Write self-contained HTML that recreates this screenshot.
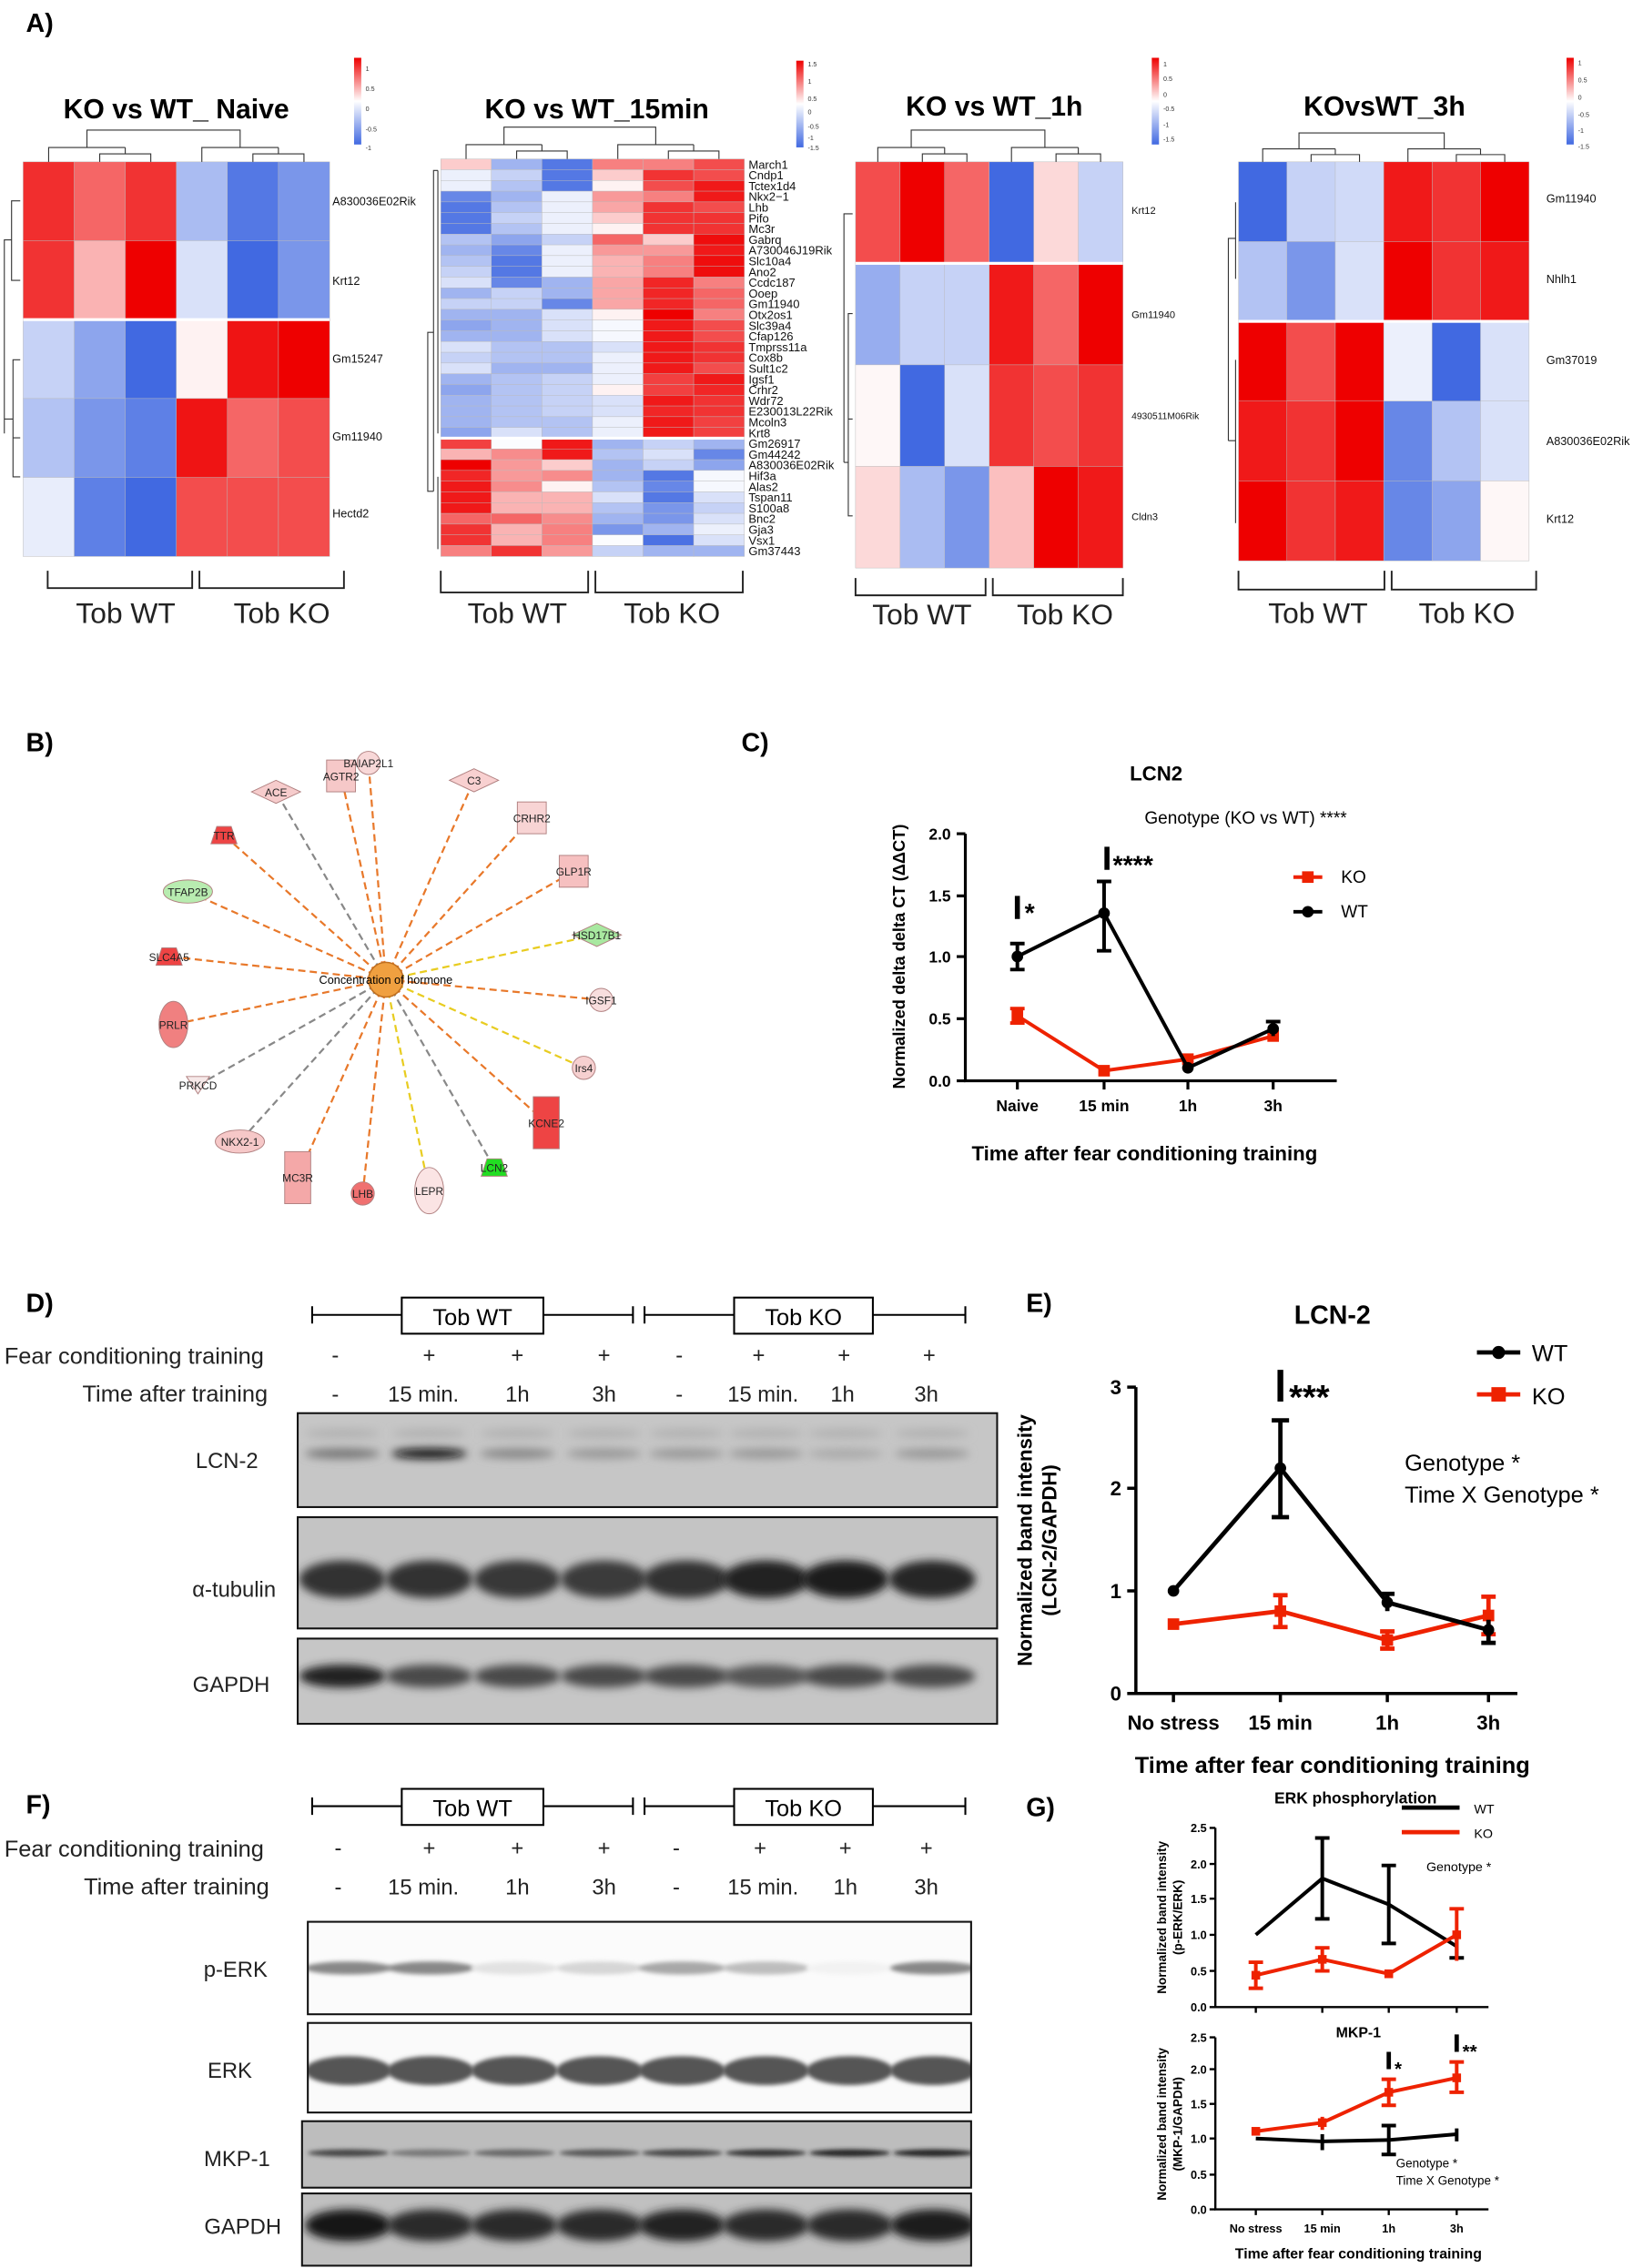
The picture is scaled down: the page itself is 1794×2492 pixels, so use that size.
<!DOCTYPE html>
<html><head><meta charset="utf-8"><style>
html,body{margin:0;padding:0;background:#fff}
svg{display:block}
text{font-family:"Liberation Sans",Arial,sans-serif}
</style></head><body>
<svg id="s" width="1794" height="2492" viewBox="0 0 1130 1569.6" preserveAspectRatio="none" xmlns="http://www.w3.org/2000/svg">
<defs>
<filter id="bl" x="-20%" y="-100%" width="140%" height="300%"><feGaussianBlur stdDeviation="3"/></filter>
<filter id="bl2" x="-20%" y="-100%" width="140%" height="300%"><feGaussianBlur stdDeviation="1.5"/></filter>
<linearGradient id="cb" x1="0" y1="0" x2="0" y2="1"><stop offset="0" stop-color="#ee0000"/><stop offset="0.5" stop-color="#fff"/><stop offset="1" stop-color="#4169e1"/></linearGradient>
</defs>
<g id="hm"></g>
<g id="blots"></g>
<g id="dend" fill="none" stroke="#333" stroke-width="0.7"></g>
<g font-weight="bold" text-anchor="middle" fill="#000">
<text x="122" y="82" font-size="19">KO vs WT_ Naive</text>
<text x="413" y="82" font-size="19">KO vs WT_15min</text>
<text x="688" y="80" font-size="19">KO vs WT_1h</text>
<text x="958" y="80" font-size="19">KOvsWT_3h</text>
</g>
<text x="18" y="22" font-size="18" font-weight="bold">A)</text>
<rect x="245" y="40" width="5" height="60" fill="url(#cb)"/>
<rect x="551" y="42" width="5" height="60" fill="url(#cb)"/>
<rect x="797" y="40" width="5" height="60" fill="url(#cb)"/>
<rect x="1084" y="40" width="5" height="60" fill="url(#cb)"/>
<g font-size="4.5" fill="#333">
<text x="253" y="49">1</text><text x="253" y="63">0.5</text><text x="253" y="77">0</text><text x="253" y="91">-0.5</text><text x="253" y="104">-1</text>
<text x="559" y="46">1.5</text><text x="559" y="58">1</text><text x="559" y="70">0.5</text><text x="559" y="79">0</text><text x="559" y="89">-0.5</text><text x="559" y="97">-1</text><text x="559" y="104">-1.5</text>
<text x="805" y="46">1</text><text x="805" y="56">0.5</text><text x="805" y="67">0</text><text x="805" y="77">-0.5</text><text x="805" y="88">-1</text><text x="805" y="98">-1.5</text>
<text x="1092" y="45">1</text><text x="1092" y="57">0.5</text><text x="1092" y="69">0</text><text x="1092" y="81">-0.5</text><text x="1092" y="92">-1</text><text x="1092" y="103">-1.5</text>
</g>
<g font-size="8" fill="#111">
<text x="230" y="142">A830036E02Rik</text><text x="230" y="197">Krt12</text><text x="230" y="251">Gm15247</text><text x="230" y="305">Gm11940</text><text x="230" y="358">Hectd2</text>
<text x="783" y="148" font-size="7">Krt12</text><text x="783" y="220" font-size="7">Gm11940</text><text x="783" y="290" font-size="6.5">4930511M06Rik</text><text x="783" y="360" font-size="7">Cldn3</text>
<text x="1070" y="140">Gm11940</text><text x="1070" y="196">Nhlh1</text><text x="1070" y="252">Gm37019</text><text x="1070" y="308">A830036E02Rik</text><text x="1070" y="362">Krt12</text>
</g>
<g id="lab15" font-size="8.2" fill="#111"></g>
<g fill="none" stroke="#222" stroke-width="1.2">
<path d="M33 395V407H133V395M138 395V407H238V395"/>
<path d="M305 395V410H407V395M412 395V410H514V395"/>
<path d="M592 400V412H682V400M687 400V412H777V400"/>
<path d="M857 395V408H958V395M963 395V408H1063V395"/>
</g>
<g font-size="20" fill="#222" text-anchor="middle">
<text x="87" y="431">Tob WT</text><text x="195" y="431">Tob KO</text>
<text x="358" y="431">Tob WT</text><text x="465" y="431">Tob KO</text>
<text x="638" y="432">Tob WT</text><text x="737" y="432">Tob KO</text>
<text x="912" y="431">Tob WT</text><text x="1015" y="431">Tob KO</text>
</g>

<text x="18" y="520" font-size="18" font-weight="bold">B)</text>
<g id="net"></g>
<text x="267" y="681" font-size="8" text-anchor="middle">Concentration of hormone</text>

<text x="513" y="520" font-size="18" font-weight="bold">C)</text>
<text x="800" y="540" font-size="14" font-weight="bold" text-anchor="middle">LCN2</text>
<text x="862" y="570" font-size="12" text-anchor="middle">Genotype (KO vs WT) ****</text>
<g stroke="#000" stroke-width="2" fill="none">
<path d="M668 577V748H925"/>
<path d="M662 577H668M662 620H668M662 662H668M662 705H668M662 748H668M704 748V754M764 748V754M822 748V754M881 748V754"/>
</g>
<g font-size="11" font-weight="bold" text-anchor="end">
<text x="658" y="581">2.0</text><text x="658" y="624">1.5</text><text x="658" y="666">1.0</text><text x="658" y="709">0.5</text><text x="658" y="752">0.0</text>
</g>
<g font-size="11" font-weight="bold" text-anchor="middle">
<text x="704" y="769">Naive</text><text x="764" y="769">15 min</text><text x="822" y="769">1h</text><text x="881" y="769">3h</text>
</g>
<text transform="translate(626 662) rotate(-90)" font-size="11.5" font-weight="bold" text-anchor="middle">Normalized delta delta CT (ΔΔCT)</text>
<text x="792" y="803" font-size="14" font-weight="bold" text-anchor="middle">Time after fear conditioning training</text>
<g stroke="#ee2200" stroke-width="2.5" fill="none"><path d="M704 703L764 741L822 733L881 717"/><path d="M704 698V708M699 698H709M699 708H709"/></g>
<g fill="#ee2200"><rect x="700" y="699" width="8" height="8"/><rect x="760" y="737" width="8" height="8"/><rect x="818" y="729" width="8" height="8"/><rect x="877" y="713" width="8" height="8"/></g>
<g stroke="#000" stroke-width="2.5" fill="none"><path d="M704 662L764 632L822 739L881 712"/><path d="M704 653V671M699 653H709M699 671H709M764 610V658M759 610H769M759 658H769M881 707V717M876 707H886"/></g>
<g fill="#000"><circle cx="704" cy="662" r="4"/><circle cx="764" cy="632" r="4"/><circle cx="822" cy="739" r="4"/><circle cx="881" cy="712" r="4"/></g>
<g stroke="#000" stroke-width="3.5"><path d="M704 620V636M766 586V602"/></g>
<text x="709" y="638" font-size="18" font-weight="bold">*</text>
<text x="770" y="605" font-size="18" font-weight="bold">****</text>
<path d="M895 607H915" stroke="#ee2200" stroke-width="2.5"/><rect x="901" y="603" width="8" height="8" fill="#ee2200"/>
<text x="928" y="611" font-size="12">KO</text>
<path d="M895 631H915" stroke="#000" stroke-width="2.5"/><circle cx="905" cy="631" r="4"/>
<text x="928" y="635" font-size="12">WT</text>

<text x="18" y="908" font-size="18" font-weight="bold">D)</text>
<text x="710" y="908" font-size="18" font-weight="bold">E)</text>
<text x="18" y="1255" font-size="18" font-weight="bold">F)</text>
<text x="710" y="1257" font-size="18" font-weight="bold">G)</text>
<g stroke="#000" stroke-width="1.3" fill="none">
<path d="M216 904V916M216 910H278M376 910H438M438 904V916M446 904V916M446 910H508M604 910H668M668 904V916"/>
<rect x="278" y="898" width="98" height="25" fill="#fff"/><rect x="508" y="898" width="96" height="25" fill="#fff"/>
<path d="M216 1244V1256M216 1250H278M376 1250H438M438 1244V1256M446 1244V1256M446 1250H508M604 1250H668M668 1244V1256"/>
<rect x="278" y="1238" width="98" height="25" fill="#fff"/><rect x="508" y="1238" width="96" height="25" fill="#fff"/>
</g>
<g font-size="16" text-anchor="middle">
<text x="327" y="917">Tob WT</text><text x="556" y="917">Tob KO</text>
<text x="327" y="1257">Tob WT</text><text x="556" y="1257">Tob KO</text>
</g>
<g font-size="16" fill="#222">
<text x="3" y="944">Fear conditioning training</text>
<text x="57" y="970">Time after training</text>
<text x="3" y="1285">Fear conditioning training</text>
<text x="58" y="1311">Time after training</text>
</g>
<g font-size="15" fill="#222" text-anchor="middle">
<text x="232" y="943">-</text><text x="297" y="943">+</text><text x="358" y="943">+</text><text x="418" y="943">+</text><text x="470" y="943">-</text><text x="525" y="943">+</text><text x="584" y="943">+</text><text x="643" y="943">+</text>
<text x="232" y="970">-</text><text x="293" y="970">15 min.</text><text x="358" y="970">1h</text><text x="418" y="970">3h</text><text x="470" y="970">-</text><text x="528" y="970">15 min.</text><text x="583" y="970">1h</text><text x="641" y="970">3h</text>
<text x="234" y="1284">-</text><text x="297" y="1284">+</text><text x="358" y="1284">+</text><text x="418" y="1284">+</text><text x="468" y="1284">-</text><text x="526" y="1284">+</text><text x="585" y="1284">+</text><text x="641" y="1284">+</text>
<text x="234" y="1311">-</text><text x="293" y="1311">15 min.</text><text x="358" y="1311">1h</text><text x="418" y="1311">3h</text><text x="468" y="1311">-</text><text x="528" y="1311">15 min.</text><text x="585" y="1311">1h</text><text x="641" y="1311">3h</text>
</g>
<g font-size="15" fill="#222" text-anchor="middle">
<text x="157" y="1016">LCN-2</text><text x="162" y="1105">α-tubulin</text><text x="160" y="1171">GAPDH</text>
<text x="163" y="1368">p-ERK</text><text x="159" y="1438">ERK</text><text x="164" y="1499">MKP-1</text><text x="168" y="1546">GAPDH</text>
</g>

<text x="922" y="916" font-size="18" font-weight="bold" text-anchor="middle">LCN-2</text>
<g stroke="#000" stroke-width="2.2" fill="none">
<path d="M786 960V1172H1050"/>
<path d="M780 960H786M780 1030H786M780 1101H786M780 1172H786M812 1172V1178M886 1172V1178M960 1172V1178M1030 1172V1178"/>
</g>
<g font-size="14" font-weight="bold" text-anchor="end"><text x="776" y="965">3</text><text x="776" y="1035">2</text><text x="776" y="1106">1</text><text x="776" y="1177">0</text></g>
<g font-size="14" font-weight="bold" text-anchor="middle"><text x="812" y="1197">No stress</text><text x="886" y="1197">15 min</text><text x="960" y="1197">1h</text><text x="1030" y="1197">3h</text></g>
<text transform="translate(714 1066) rotate(-90)" font-size="14" font-weight="bold" text-anchor="middle">Normalized band intensity</text>
<text transform="translate(731 1066) rotate(-90)" font-size="14" font-weight="bold" text-anchor="middle">(LCN-2/GAPDH)</text>
<text x="922" y="1227" font-size="16" font-weight="bold" text-anchor="middle">Time after fear conditioning training</text>
<g stroke="#ee2200" stroke-width="3" fill="none"><path d="M812 1124L886 1115L960 1135L1030 1118"/><path d="M886 1104V1126M881 1104H891M881 1126H891M960 1129V1141M955 1129H965M955 1141H965M1030 1105V1131M1025 1105H1035M1025 1131H1035"/></g>
<g fill="#ee2200"><rect x="808" y="1120" width="8" height="8"/><rect x="882" y="1111" width="8" height="8"/><rect x="956" y="1131" width="8" height="8"/><rect x="1026" y="1114" width="8" height="8"/></g>
<g stroke="#000" stroke-width="3" fill="none"><path d="M812 1101L886 1016L960 1109L1030 1128"/><path d="M886 983V1050M880 983H892M880 1050H892M960 1103V1115M955 1103H965M1030 1121V1137M1025 1137H1035"/></g>
<g fill="#000"><circle cx="812" cy="1101" r="4"/><circle cx="886" cy="1016" r="4"/><circle cx="960" cy="1109" r="4"/><circle cx="1030" cy="1128" r="4"/></g>
<path d="M886 948V970" stroke="#000" stroke-width="4"/>
<text x="892" y="975" font-size="24" font-weight="bold">***</text>
<path d="M1022 936H1052" stroke="#000" stroke-width="3"/><circle cx="1037" cy="936" r="4.5"/>
<text x="1060" y="942" font-size="16">WT</text>
<path d="M1022 965H1052" stroke="#ee2200" stroke-width="3"/><rect x="1032" y="960" width="10" height="10" fill="#ee2200"/>
<text x="1060" y="972" font-size="16">KO</text>
<text x="972" y="1018" font-size="16">Genotype *</text>
<text x="972" y="1040" font-size="16">Time X Genotype *</text>

<text x="938" y="1248" font-size="11" font-weight="bold" text-anchor="middle">ERK phosphorylation</text>
<g stroke="#000" stroke-width="1.5" fill="none">
<path d="M841 1265V1389H1030"/>
<path d="M837 1265H841M837 1290H841M837 1314H841M837 1339H841M837 1364H841M837 1389H841M869 1389V1393M915 1389V1393M961 1389V1393M1008 1389V1393"/>
<path d="M841 1410V1529H1030"/>
<path d="M837 1410H841M837 1432H841M837 1456H841M837 1480H841M837 1505H841M837 1529H841M869 1529V1533M915 1529V1533M961 1529V1533M1008 1529V1533"/>
</g>
<g font-size="8" font-weight="bold" text-anchor="end">
<text x="835" y="1268">2.5</text><text x="835" y="1293">2.0</text><text x="835" y="1317">1.5</text><text x="835" y="1342">1.0</text><text x="835" y="1367">0.5</text><text x="835" y="1392">0.0</text>
<text x="835" y="1413">2.5</text><text x="835" y="1435">2.0</text><text x="835" y="1459">1.5</text><text x="835" y="1483">1.0</text><text x="835" y="1508">0.5</text><text x="835" y="1532">0.0</text>
</g>
<g font-size="8" font-weight="bold" text-anchor="middle">
<text x="869" y="1545">No stress</text><text x="915" y="1545">15 min</text><text x="961" y="1545">1h</text><text x="1008" y="1545">3h</text>
</g>
<text x="940" y="1563" font-size="10" font-weight="bold" text-anchor="middle">Time after fear conditioning training</text>
<text transform="translate(807 1327) rotate(-90)" font-size="8.5" font-weight="bold" text-anchor="middle">Normalized band intensity</text>
<text transform="translate(818 1327) rotate(-90)" font-size="8.5" font-weight="bold" text-anchor="middle">(p-ERK/ERK)</text>
<text transform="translate(807 1470) rotate(-90)" font-size="8.5" font-weight="bold" text-anchor="middle">Normalized band intensity</text>
<text transform="translate(818 1470) rotate(-90)" font-size="8.5" font-weight="bold" text-anchor="middle">(MKP-1/GAPDH)</text>
<g stroke="#000" stroke-width="2.5" fill="none"><path d="M869 1339L915 1300L961 1318L1008 1347"/><path d="M915 1272V1328M910 1272H920M910 1328H920M961 1291V1345M956 1291H966M956 1345H966M1008 1340V1355M1003 1355H1013"/></g>
<g stroke="#ee2200" stroke-width="2.5" fill="none"><path d="M869 1367L915 1356L961 1366L1008 1339"/><path d="M869 1358V1376M864 1358H874M864 1376H874M915 1348V1364M910 1348H920M910 1364H920M1008 1321V1357M1003 1321H1013"/></g>
<g fill="#ee2200"><rect x="866" y="1364" width="6" height="6"/><rect x="912" y="1353" width="6" height="6"/><rect x="958" y="1363" width="6" height="6"/><rect x="1005" y="1336" width="6" height="6"/></g>
<path d="M970 1251H1010" stroke="#000" stroke-width="3"/><text x="1020" y="1255" font-size="9">WT</text>
<path d="M970 1268H1010" stroke="#ee2200" stroke-width="3"/><text x="1020" y="1272" font-size="9">KO</text>
<text x="987" y="1295" font-size="9">Genotype *</text>
<text x="940" y="1410" font-size="10" font-weight="bold" text-anchor="middle">MKP-1</text>
<g stroke="#ee2200" stroke-width="2.5" fill="none"><path d="M869 1475L915 1469L961 1448L1008 1438"/><path d="M915 1465V1474M961 1439V1457M956 1439H966M956 1457H966M1008 1427V1448M1003 1427H1013M1003 1448H1013"/></g>
<g fill="#ee2200"><rect x="866" y="1472" width="6" height="6"/><rect x="912" y="1466" width="6" height="6"/><rect x="958" y="1445" width="6" height="6"/><rect x="1005" y="1435" width="6" height="6"/></g>
<g stroke="#000" stroke-width="2.5" fill="none"><path d="M869 1480L915 1482L961 1481L1008 1477"/><path d="M915 1477V1488M961 1471V1491M956 1471H966M956 1491H966M1008 1473V1482"/></g>
<path d="M961 1420V1432M1008 1408V1420" stroke="#000" stroke-width="3"/>
<text x="965" y="1436" font-size="13" font-weight="bold">*</text>
<text x="1012" y="1424" font-size="13" font-weight="bold">**</text>
<text x="966" y="1500" font-size="8.5">Genotype *</text>
<text x="966" y="1512" font-size="8.5">Time X Genotype *</text>
</svg>
<script>
var NS="http://www.w3.org/2000/svg";
function el(p,t,a){var e=document.createElementNS(NS,t);for(var k in a)e.setAttribute(k,a[k]);p.appendChild(e);return e;}
function col(v){var r,g,b;if(v>=0){r=255+(238-255)*v;g=255*(1-v);b=255*(1-v);}else{v=-v;r=255+(65-255)*v;g=255+(105-255)*v;b=255+(225-255)*v;}return "rgb("+Math.round(r)+","+Math.round(g)+","+Math.round(b)+")";}
var hm=document.getElementById("hm");
function heat(x0,y0,w,h,vals,gap){var cw=w/6,rh=h/vals.length;for(var i=0;i<vals.length;i++)for(var j=0;j<6;j++){el(hm,"rect",{x:x0+j*cw,y:y0+i*rh,width:cw+0.1,height:rh+0.1,fill:col(vals[i][j]),stroke:"#bbb","stroke-width":0.3});}
if(gap)el(hm,"rect",{x:x0,y:y0+gap*rh-1,width:w,height:2,fill:"#fff"});}
heat(16,112,212,273,[[.82,.6,.8,-.45,-.9,-.7],[.8,.3,1,-.2,-1,-.7],[-.3,-.6,-1,.05,.92,1],[-.4,-.7,-.85,.92,.6,.7],[-.12,-.85,-1,.7,.7,.7]],2);
var v15=[[.2,-.5,-.9,.5,.5,.7],[-.1,-.3,-.9,.2,.8,.7],[-.1,-.4,-.9,.05,.7,.9],[-.8,-.5,-.1,.4,.5,.9],[-.9,-.4,-.1,.35,.8,.7],[-.9,-.3,-.1,.2,.8,.8],[-.9,-.4,-.1,.05,.8,.8],[-.4,-.6,-.3,.6,.2,.95],[-.5,-.8,-.1,.4,.4,.9],[-.4,-.9,-.1,.3,.5,.95],[-.3,-.9,-.1,.3,.5,.95],[-.2,-.8,-.5,.35,.85,.5],[-.5,-.3,-.5,.35,.85,.6],[-.3,-.3,-.8,.35,.85,.6],[-.5,-.5,-.2,.05,1,.5],[-.6,-.5,-.2,-.05,.9,.7],[-.5,-.5,-.2,-.05,.9,.7],[-.2,-.4,-.4,-.2,.9,.8],[-.3,-.4,-.4,-.1,.9,.8],[-.2,-.5,-.5,-.1,.9,.7],[-.5,-.4,-.3,-.1,.75,.9],[-.6,-.4,-.3,.05,.75,.85],[-.5,-.4,-.3,-.2,.9,.8],[-.5,-.4,-.3,-.2,.85,.8],[-.5,-.4,-.4,-.1,.9,.75],[-.6,-.2,-.4,-.1,.9,.75],[.75,-.02,.9,-.5,-.3,-.5],[.3,.45,.9,-.4,-.2,-.8],[1,.4,.2,-.5,-.3,-.6],[.85,.4,.45,-.5,-.9,-.05],[.9,.45,.05,-.4,-.8,-.05],[.9,.3,.3,-.2,-.9,-.2],[.9,.3,.3,-.4,-.7,-.3],[.6,.6,.45,-.5,-.7,-.2],[.8,.3,.5,-.7,-.5,-.1],[.8,.3,.5,-.02,-.95,-.2],[.5,.8,.4,-.3,-.5,-.5]];
heat(305,110,210,275,v15,26);
heat(592,112,185,281,[[.7,1,.6,-1,.15,-.3],[-.55,-.3,-.3,.9,.6,1],[.03,-1,-.2,.8,.7,.8],[.15,-.45,-.7,.25,1,.9]],1);
heat(857,112,201,276,[[-1,-.3,-.25,.9,.8,1],[-.4,-.7,-.2,1,.8,.9],[1,.7,1,-.1,-1,-.2],[.9,.8,1,-.8,-.4,-.2],[1,.8,.9,-.8,-.6,.03]],2);
var d=document.getElementById("dend");
function pth(s){el(d,"path",{d:s});}
function topd(x0,w,yb,yt){var c=[];for(var i=0;i<6;i++)c.push(x0+(i+.5)*w/6);var h=yb-yt;
var y1=yb-h*0.25,y2=yb-h*0.45,y3=yt;
var m1=(c[1]+c[2])/2,m2=(c[0]+m1)/2,m3=(c[4]+c[5])/2,m4=(c[3]+m3)/2;
pth("M"+c[1]+" "+yb+"V"+y1+"H"+c[2]+"V"+yb+"M"+m1+" "+y1+"V"+y2+"M"+c[0]+" "+yb+"V"+y2+"H"+m1+"M"+m2+" "+y2+"V"+y3+"H"+m4+"V"+y2+"M"+c[4]+" "+yb+"V"+y1+"H"+c[5]+"V"+yb+"M"+m3+" "+y1+"V"+y2+"M"+c[3]+" "+yb+"V"+y2+"H"+m3);}
topd(16,212,112,90);topd(305,210,110,88);topd(592,185,112,90);topd(857,201,112,92);
pth("M14 139H8V194H14M8 166H3V300M14 249H9V330H14M9 303H14M9 290H3");
pth("M303 118V300M303 118H300V340M303 330V380M300 340H296V230H300");
pth("M590 148H584V320M590 217H587V290H590M587 255V357H590M584 320H587");
pth("M855 140V193M855 165H850V305M855 249V362M855 305H850");
var lab=["March1","Cndp1","Tctex1d4","Nkx2\u22121","Lhb","Pifo","Mc3r","Gabrq","A730046J19Rik","Slc10a4","Ano2","Ccdc187","Ooep","Gm11940","Otx2os1","Slc39a4","Cfap126","Tmprss11a","Cox8b","Sult1c2","Igsf1","Crhr2","Wdr72","E230013L22Rik","Mcoln3","Krt8","Gm26917","Gm44242","A830036E02Rik","Hif3a","Alas2","Tspan11","S100a8","Bnc2","Gja3","Vsx1","Gm37443"];
var lg=document.getElementById("lab15");
for(var i=0;i<lab.length;i++){var t=el(lg,"text",{x:518,y:110+(i+0.5)*275/37+3});t.textContent=lab[i];}
var net=document.getElementById("net");var cx=267,cy=678;
var nodes=[[236,537,"AGTR2","rect","#f6c8c8","o"],[255,528,"BAIAP2L1","circle","#f8d8d8","o"],[328,540,"C3","diamond","#f8d0d0","o"],[191,548,"ACE","diamond","#f6cccc","g"],[368,566,"CRHR2","rect","#f8d4d4","o"],[155,578,"TTR","trap","#ee4444","o"],[397,603,"GLP1R","rect","#f6c0c0","o"],[130,617,"TFAP2B","ell","#b8ecb0","o"],[413,647,"HSD17B1","diamond","#a8e8a0","y"],[117,662,"SLC4A5","trap","#ee4444","o"],[416,692,"IGSF1","circle","#f8dede","o"],[120,709,"PRLR","ell2","#f08080","o"],[404,739,"Irs4","circle","#f6d0d0","y"],[137,751,"PRKCD","tri","#f6e8e8","g"],[378,777,"KCNE2","rect2","#ee4444","o"],[166,790,"NKX2-1","ell","#f6c8c8","g"],[206,815,"MC3R","rect2","#f4a8a8","o"],[251,826,"LHB","circle","#f07070","o"],[297,824,"LEPR","ell2","#fbe4e4","y"],[342,808,"LCN2","trap","#22dd22","g"]];
var ec={o:"#e8782a",y:"#e8cc20",g:"#888"};
nodes.forEach(function(n){el(net,"line",{x1:cx,y1:cy,x2:n[0],y2:n[1],stroke:ec[n[5]],"stroke-width":1.4,"stroke-dasharray":"5,3"});});
el(net,"circle",{cx:cx,cy:cy,r:12,fill:"#f0a040",stroke:"#c07020"});
nodes.forEach(function(n){var x=n[0],y=n[1],f=n[4],s={fill:f,stroke:"#b08080","stroke-width":0.6};
if(n[3]=="rect"){s.x=x-10;s.y=y-11;s.width=20;s.height=22;el(net,"rect",s);}
else if(n[3]=="rect2"){s.x=x-9;s.y=y-18;s.width=18;s.height=36;el(net,"rect",s);}
else if(n[3]=="circle"){s.cx=x;s.cy=y;s.r=8;el(net,"circle",s);}
else if(n[3]=="ell"){s.cx=x;s.cy=y;s.rx=17;s.ry=8;el(net,"ellipse",s);}
else if(n[3]=="ell2"){s.cx=x;s.cy=y;s.rx=10;s.ry=16;el(net,"ellipse",s);}
else if(n[3]=="diamond"){s.points=(x-17)+","+y+" "+x+","+(y-8)+" "+(x+17)+","+y+" "+x+","+(y+8);el(net,"polygon",s);}
else if(n[3]=="trap"){s.points=(x-9)+","+(y+6)+" "+(x-5)+","+(y-6)+" "+(x+5)+","+(y-6)+" "+(x+9)+","+(y+6);el(net,"polygon",s);}
else if(n[3]=="tri"){s.points=(x-8)+","+(y-6)+" "+(x+8)+","+(y-6)+" "+x+","+(y+6);el(net,"polygon",s);}
var t=el(net,"text",{x:x,y:y+3,"font-size":7.5,"text-anchor":"middle",fill:"#222"});t.textContent=n[2];});
var bg=document.getElementById("blots");
var L1=[237,297,358,418,475,530,585,645];
function panel(x,y,w,h,bgc,lanes,by,bh,bw,cols,f){var id="c"+Math.round(y);var cp=el(bg,"clipPath",{id:id});el(cp,"rect",{x:x,y:y,width:w,height:h});var g=el(bg,"g",{"clip-path":"url(#"+id+")"});
el(g,"rect",{x:x,y:y,width:w,height:h,fill:bgc});
for(var i=0;i<lanes.length;i++){if(!cols[i])continue;el(g,"ellipse",{cx:lanes[i],cy:by,rx:bw,ry:bh,fill:cols[i],filter:"url(#"+f+")"});}
el(bg,"rect",{x:x,y:y,width:w,height:h,fill:"none",stroke:"#111","stroke-width":1.3});return g;}
var g1=panel(206,978,484,65,"#c6c6c6",L1,1006,3.5,26,["#777","#111","#888","#999","#999","#999","#aaa","#999"],"bl");
for(var i=0;i<8;i++){el(g1,"ellipse",{cx:L1[i],cy:992,rx:26,ry:3,fill:"#b0b0b0",filter:"url(#bl)"});}
panel(206,1050,484,77,"#c4c4c4",L1,1093,13,30,["#333","#333","#383838","#3a3a3a","#333","#222","#1e1e1e","#262626"],"bl");
panel(206,1134,484,59,"#c6c6c6",L1,1160,8,30,["#222","#4a4a4a","#4a4a4a","#4a4a4a","#4a4a4a","#555","#4a4a4a","#4a4a4a"],"bl");
var L2=[241,298,356,415,472,530,588,646];
panel(213,1330,459,64,"#fbfbfb",L2,1362,4.5,30,["#888","#888","#e2e2e2","#d6d6d6","#a8a8a8","#bdbdbd","#f2f2f2","#888"],"bl2");
panel(213,1400,459,62,"#fafafa",L2,1433,10,30,["#555","#555","#555","#555","#555","#555","#555","#555"],"bl2");
panel(209,1468,463,46,"#bdbdbd",L2,1490,2.5,28,["#444","#777","#666","#555","#444","#333","#222","#222"],"bl2");
panel(209,1518,463,50,"#c0c0c0",L2,1540,11,30,["#151515","#2a2a2a","#2a2a2a","#2a2a2a","#222","#2a2a2a","#2a2a2a","#1e1e1e"],"bl");
</script>
</body></html>
